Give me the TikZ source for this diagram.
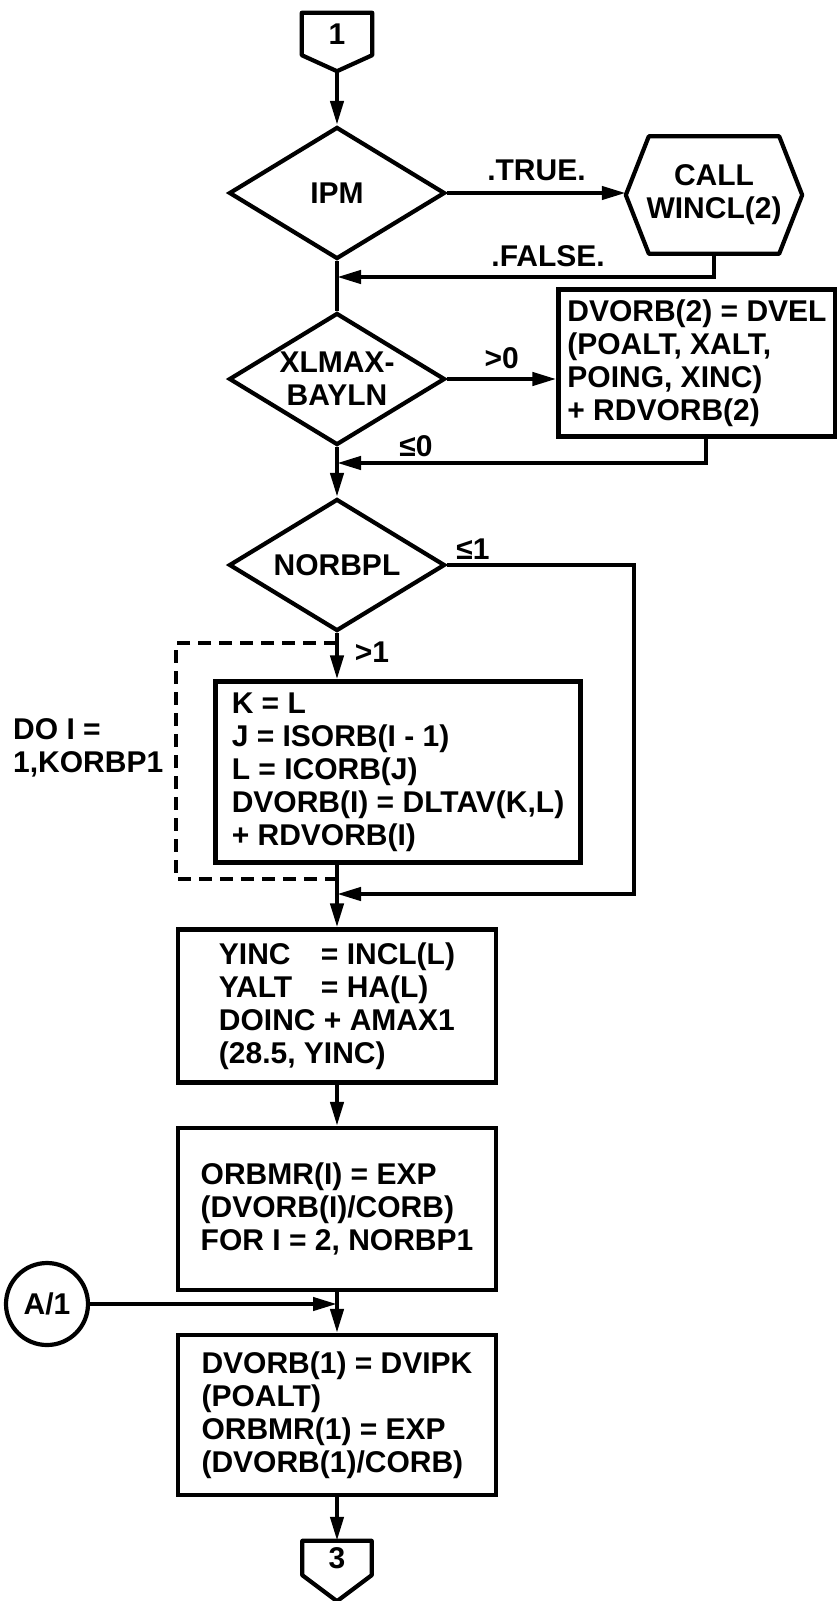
\documentclass[tikz,border=0pt]{standalone}
\usepackage{fontspec}
\setmainfont{Liberation Sans}
\usepackage{tikz}
\usetikzlibrary{shapes.geometric,arrows.meta,positioning,calc}
\newcommand{\flowfont}{\fontsize{30}{33}\selectfont\bfseries}
\tikzset{
  BX/.style={draw, rectangle, align=left, font=\flowfont,
             inner sep=0pt, line width=4.2pt},
  DC/.style={draw, diamond, aspect=1.636, align=center, font=\flowfont,
             minimum width=216pt, minimum height=132pt,
             inner sep=0pt, line width=4.2pt},
  PG/.style={rectangle, font=\flowfont, inner sep=0pt,
             minimum width=70pt},
  LB/.style={font=\flowfont, inner sep=0pt},
  SA/.style={-{Triangle[length=24pt,width=13pt]}, line width=4.2pt},
  LN/.style={line width=4.2pt},
  DL/.style={line width=4.2pt, dash pattern=on 13pt off 8pt}
}

\begin{document}
\begin{tikzpicture}[x=1pt, y=-1pt]
\useasboundingbox (0,0) rectangle (837,1601);

% ---- entry connector ----
\node[PG, minimum height=42pt] (C1) at (337,34) {1};
\coordinate (C1tip) at ([yshift=-16pt]C1.south);
\draw[LN, line join=round] (C1.south west) -- (C1.north west) -- (C1.north east)
    -- (C1.south east) -- (C1tip) -- cycle;

% ---- IPM test ----
\node[DC] (IPM) at (337,193) {IPM};
\node[LB, minimum width=176pt, minimum height=117pt, align=center] (WIN) at (714,195)
    {CALL\\WINCL(2)};
\draw[LN, line join=round] (WIN.west) -- ([xshift=23pt]WIN.north west)
    -- ([xshift=-23pt]WIN.north east) -- (WIN.east)
    -- ([xshift=-23pt]WIN.south east) -- ([xshift=23pt]WIN.south west) -- cycle;

% ---- XLMAX test ----
\node[DC] (XL) at (337,379) {XLMAX-\\BAYLN};
\node[BX, minimum width=277pt, minimum height=147pt] (DV2) at (697,363)
    {DVORB(2) = DVEL\\(POALT, XALT,\\POING, XINC)\\+ RDVORB(2)};

% ---- NORBPL test and loop ----
\node[DC] (NB) at (337,565) {NORBPL};
\node[BX, minimum width=365pt, minimum height=181pt] (LOOP) at (398,772)
    {K = L\\J = ISORB(I - 1)\\L = ICORB(J)\\DVORB(I) = DLTAV(K,L)\\+ RDVORB(I)};
\node[LB, anchor=west, align=left] (DO) at (13,748) {DO I =\\1,KORBP1};

% ---- remaining steps ----
\node[BX, minimum width=318pt, minimum height=153pt] (YI) at (337,1006)
    {\makebox[3.4em][l]{YINC}= INCL(L)\\\makebox[3.4em][l]{YALT}= HA(L)\\
     DOINC + AMAX1\\(28.5, YINC)};
\node[BX, minimum width=318pt, minimum height=162pt] (OM) at (337,1209)
    {ORBMR(I) = EXP\\(DVORB(I)/CORB)\\FOR I = 2, NORBP1};
\node[draw, circle, LB, minimum size=82pt, line width=4.2pt] (A1) at (47,1304) {A/1};
\node[BX, minimum width=318pt, minimum height=160pt] (DV1) at (337,1415)
    {DVORB(1) = DVIPK\\(POALT)\\ORBMR(1) = EXP\\(DVORB(1)/CORB)};

% ---- exit connector ----
\node[PG, minimum height=34pt, minimum width=69pt] (C3) at (337,1558) {3};
\coordinate (C3tip) at ([yshift=-26pt]C3.south);
\draw[LN, line join=round] (C3.south west) -- (C3.north west) -- (C3.north east)
    -- (C3.south east) -- (C3tip) -- cycle;

% ---- join points on the main line ----
\coordinate (jF) at (337,277);
\coordinate (j0) at (337,463);
\coordinate (jR) at (634,894);
\coordinate (j1) at (337,894);
\coordinate (dT) at (337,643);
\coordinate (dB) at (337,879);

% ---- flow arrows ----
\draw[SA] (C1tip) -- (IPM.north);
\draw[SA] (IPM.east) -- (IPM.east -| WIN.west)
    node[LB, midway, above=10pt] (TRU) {.TRUE.};
\draw[SA] (WIN.south) |- (jF) node[LB, pos=0.72, above=8pt] (FAL) {.FALSE.};
\draw[LN] (IPM.south) -- (XL.north);
\draw[SA] (XL.east) -- (XL.east -| DV2.west)
    node[LB, midway, above=8pt] (GT0) {>0};
\draw[SA] ([xshift=9pt]DV2.south) |- (j0);
\node[LB] (LE0) at (416,446) {≤0};
\draw[LN] (XL.south) -- (j0);
\draw[SA] (j0) -- (NB.north);
\draw[SA] (NB.east) -| (jR) -- (j1);
\node[LB] (LE1) at (473,549) {≤1};
\draw[SA] (NB.south) -- (NB.south |- LOOP.north);
\node[LB] (GT1) at (372,652) {>1};
\draw[DL] (dT) -- ++(-161,0) |- (dB);
\draw[SA] (LOOP.south -| j1) -- (YI.north);
\draw[SA] (YI) -- (OM);
\draw[SA] (OM) -- (DV1);
\draw[SA] (A1.east) -- (A1.east -| DV1.north);
\draw[SA] (DV1) -- (C3.north);

\end{tikzpicture}
\end{document}
